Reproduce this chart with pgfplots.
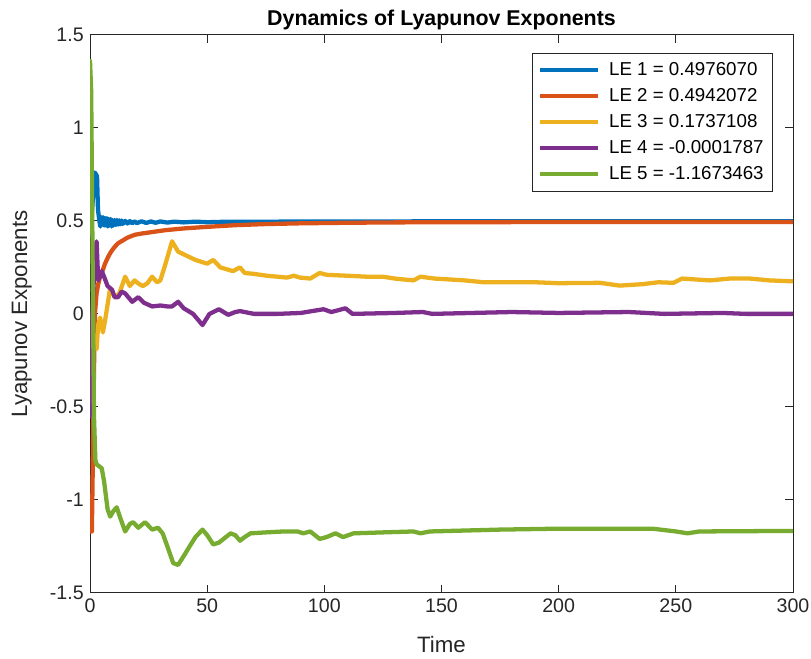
\documentclass[border=0pt]{standalone}
\usepackage{pgfplots}
\pgfplotsset{compat=1.18}
\usepackage{fontspec}
\setmainfont{Liberation Sans}
\definecolor{c1}{rgb}{0,0.447,0.741}
\definecolor{c2}{rgb}{0.85,0.325,0.098}
\definecolor{c3}{rgb}{0.929,0.694,0.125}
\definecolor{c4}{rgb}{0.494,0.184,0.556}
\definecolor{c5}{rgb}{0.466,0.674,0.188}
\definecolor{axc}{rgb}{0.15,0.15,0.15}
\begin{document}
\begin{tikzpicture}
\begin{axis}[
  name=ax,
  scale only axis,
  width=394.4pt, height=313pt,
  xmin=0, xmax=300, ymin=-1.5, ymax=1.5,
  xtick={0,50,100,150,200,250,300},
  ytick={-1.5,-1,-0.5,0,0.5,1,1.5},
  yticklabels={-1.5,-1,-0.5,0,0.5,1,1.5},
  tick pos=both, tick align=inside,
  major tick length=4.3pt,
  axis line style={axc, line width=0.5pt},
  every tick/.style={axc, line width=0.5pt},
  tick label style={font=\fontsize{11}{13}\selectfont, text=axc},
  xticklabel style={inner xsep=0pt},
  /pgf/number format/assume math mode=true,
  xlabel={Time}, ylabel={Lyapunov Exponents},
  every axis x label/.style={at={(axis description cs:0.5,-0.093)},anchor=center,font=\fontsize{12.5}{14}\selectfont,text=axc},
  every axis y label/.style={at={(axis description cs:-0.097,0.5)},rotate=90,anchor=center,font=\fontsize{12.5}{14}\selectfont,text=axc},
  title={\textbf{Dynamics of Lyapunov Exponents}},
  every axis title/.style={at={(axis description cs:0.5,1.027)},anchor=center,font=\fontsize{12}{14}\selectfont},
  legend style={at={(axis description cs:0.9716,0.968)},anchor=north east,draw=axc,line width=0.5pt,
    font=\fontsize{10.5}{12.5}\selectfont, row sep=1.8pt, column sep=3pt, inner xsep=3pt, inner ysep=3pt},
  legend cell align=left,
  legend image code/.code={\draw[#1,line cap=butt] (0mm,0mm) -- (11.5mm,0mm);},
  every axis plot/.append style={line join=round, line cap=round},
  clip=true,
]
% LE1
\addplot[c1, line width=2.4pt] table {
0 0.42
1 0.58
2.1 0.76
3 0.74
3.4 0.56
4 0.5
4.4 0.47
4.8 0.52
5.2 0.48
5.6 0.52
6 0.475
6.4 0.515
6.8 0.475
7.2 0.515
7.6 0.47
8 0.51
8.4 0.475
8.8 0.51
9.2 0.47
9.6 0.505
10 0.475
10.5 0.505
11 0.478
11.5 0.505
12 0.48
12.5 0.503
13 0.482
13.5 0.502
14 0.484
15 0.5
16 0.486
17 0.499
18 0.487
19 0.498
20 0.488
22 0.498
24 0.489
26 0.497
28 0.49
30 0.497
33 0.491
36 0.496
40 0.492
45 0.496
50 0.493
60 0.496
80 0.496
100 0.497
150 0.4975
200 0.4976
300 0.4976
};
\addlegendentry{LE 1 = 0.4976070}
% LE2
\addplot[c2, line width=2.4pt] table {
0 -1.17
0.8 -1.17
1.3 -0.7
1.7 -0.3
2.1 0.0
2.8 0.11
3.5 0.16
4.3 0.2
5.3 0.23
6.4 0.27
7.5 0.3
8.3 0.32
9.3 0.34
10.5 0.36
12 0.38
14 0.395
16 0.41
19 0.425
22 0.432
26.5 0.44
32 0.45
40.5 0.46
50 0.468
62 0.477
75 0.483
90 0.487
110 0.49
130 0.492
160 0.493
200 0.494
300 0.4942
};
\addlegendentry{LE 2 = 0.4942072}
% LE3
\addplot[c3, line width=2.4pt] table {
0 -0.05
1.5 -0.12
2.8 -0.19
3.5 -0.06
4.3 -0.02
5.5 -0.1
6.5 -0.03
8.5 0.13
10.7 0.09
12.5 0.11
15 0.2
17 0.15
19 0.18
21 0.16
22.6 0.15
24.5 0.165
26.5 0.2
28.6 0.17
30 0.18
32 0.26
35 0.39
37.6 0.335
40 0.32
45 0.29
50 0.27
52.6 0.29
55.6 0.25
61 0.23
64 0.25
66 0.22
70 0.215
75.6 0.205
80 0.2
84 0.195
87 0.205
89.7 0.195
94 0.19
98 0.22
101 0.21
110 0.205
118 0.2
125 0.2
130 0.19
138 0.18
141 0.2
147 0.19
160 0.18
168 0.17
175 0.17
190 0.17
200 0.165
217.7 0.167
226 0.152
236 0.16
242.5 0.17
249 0.167
252.6 0.19
264.6 0.18
273 0.19
281.6 0.19
290 0.18
300 0.175
};
\addlegendentry{LE 3 = 0.1737108}
% LE4
\addplot[c4, line width=2.4pt] table {
0 -0.55
0.5 -0.3
1 0.0
2 0.3
2.8 0.39
3.5 0.18
4.5 0.21
5 0.23
6 0.2
7.5 0.15
9.4 0.13
10.5 0.09
12 0.09
13.5 0.12
15 0.11
18 0.065
20.6 0.09
23 0.06
26.5 0.04
30 0.045
33 0.04
35 0.04
37.6 0.065
40 0.03
44 0.0
48 -0.06
51 0.0
55 0.025
59 -0.005
62 0.01
64 0.015
70 0.0
80 0.0
90 0.005
99.6 0.025
103 0.01
109 0.03
112 0.0
130 0.005
142 0.01
146 0.0
180 0.01
200 0.005
230 0.01
245 0.0
270 0.005
280 0.0
300 0.0
};
\addlegendentry{LE 4 = -0.0001787}
% LE5
\addplot[c5, line width=2.4pt] table {
0 1.36
0.5 1.2
1.1 0.3
1.7 -0.55
2.3 -0.79
2.9 -0.81
5 -0.83
6 -0.9
7.5 -1.05
8.6 -1.09
10 -1.06
11.4 -1.04
13 -1.1
15 -1.17
17 -1.13
18.4 -1.12
20.6 -1.15
23.5 -1.12
26.5 -1.16
29 -1.15
31 -1.18
33 -1.25
35.5 -1.34
37.6 -1.35
40.6 -1.29
43 -1.24
45 -1.2
48 -1.16
50 -1.19
52.6 -1.24
55 -1.23
57 -1.21
60 -1.18
62 -1.19
64 -1.22
66 -1.2
68.5 -1.18
75 -1.175
82.6 -1.17
88.5 -1.17
91 -1.18
94 -1.17
98 -1.21
101 -1.2
104.7 -1.18
108 -1.2
112.5 -1.18
125 -1.175
138 -1.17
141 -1.18
145 -1.17
175 -1.16
200 -1.155
240 -1.155
250 -1.17
255 -1.18
260 -1.17
300 -1.167
};
\addlegendentry{LE 5 = -1.1673463}
\end{axis}
\path ([shift={(-50.5pt,-37pt)}]ax.south west) rectangle ([shift={(10.1pt,19.6pt)}]ax.north east);
\end{tikzpicture}
\end{document}
